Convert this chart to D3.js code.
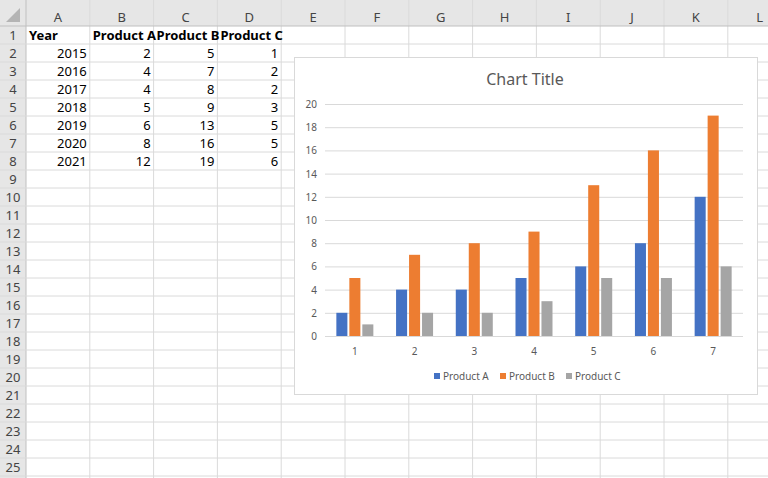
<!DOCTYPE html>
<html><head><meta charset="utf-8">
<script src="https://cdn.jsdelivr.net/npm/d3@7"></script>
<style>body{margin:0;background:#fff;}svg{display:block;font-family:"Noto Sans",sans-serif;}</style>
</head><body><svg id="c" width="768" height="478"></svg>
<script>
const years = [2015, 2016, 2017, 2018, 2019, 2020, 2021];
const categories = ["1", "2", "3", "4", "5", "6", "7"];
const series = ["Product A", "Product B", "Product C"];
const productA = [2, 4, 4, 5, 6, 8, 12];
const productB = [5, 7, 8, 9, 13, 16, 19];
const productC = [1, 2, 2, 3, 5, 5, 6];
const yTicks = [0, 2, 4, 6, 8, 10, 12, 14, 16, 18, 20];
const colLetters = ["A","B","C","D","E","F","G","H","I","J","K","L"];
const colours = ["#4472c4", "#ed7d31", "#a5a5a5"];
const values = [productA, productB, productC];

let svg = d3.select("#c");

// spreadsheet grid
const headW = 26, colW = 63.8, headH = 26, rowH = 18;
svg.append("rect").attr("width", 768).attr("height", headH).attr("fill", "#e6e6e6");
svg.append("rect").attr("width", headW).attr("height", 478).attr("fill", "#e6e6e6");
svg.append("path").attr("d", "M20,8L20,22L6,22Z").attr("fill", "#b4b4b4");
for (let i = 0; i < 13; i++) {
  let x = headW + i * colW;
  svg.append("line").attr("x1", x).attr("x2", x).attr("y1", 0).attr("y2", 478)
    .attr("stroke", i == 0 ? "#c0c0c0" : "#dadada");
  if (i < 12) svg.append("text").attr("x", x + colW / 2).attr("y", 22).attr("text-anchor", "middle")
    .attr("font-size", 13).attr("fill", "#444").text(colLetters[i]);
}
for (let r = 0; r < 26; r++) {
  let y = headH + r * rowH;
  svg.append("line").attr("x1", 0).attr("x2", 768).attr("y1", y).attr("y2", y)
    .attr("stroke", r == 0 ? "#c0c0c0" : "#dadada");
  if (r < 25) svg.append("text").attr("x", 13).attr("y", y + 14).attr("text-anchor", "middle")
    .attr("font-size", 13).attr("fill", "#444").text(r + 1);
}
// cells
const header = ["Year"].concat(series);
header.forEach((h, i) => svg.append("text").attr("x", headW + i * colW + 3).attr("y", headH + 14)
  .attr("font-size", 13).attr("font-weight", "bold").attr("fill", "#000").text(h));
years.forEach((yr, r) => {
  [yr, productA[r], productB[r], productC[r]].forEach((v, i) => {
    svg.append("text").attr("x", headW + (i + 1) * colW - 3).attr("y", headH + (r + 1) * rowH + 14)
      .attr("text-anchor", "end").attr("font-size", 13).attr("fill", "#000").text(v);
  });
});

// chart box
svg.append("rect").attr("x", 294.5).attr("y", 57.5).attr("width", 463).attr("height", 337)
  .attr("fill", "#fff").attr("stroke", "#d9d9d9");
svg.append("text").attr("x", 525).attr("y", 85).attr("text-anchor", "middle")
  .attr("font-size", 16).attr("fill", "#595959").text("Chart Title");

let x = d3.scaleBand().domain(categories).range([325, 743]);
let xs = d3.scaleBand().domain(series).range([0, 37]).paddingInner(0.15);
let y = d3.scaleLinear().domain([0, 20]).range([336, 104]);

svg.append("g").selectAll("line").data(yTicks).enter().append("line")
  .attr("x1", 325).attr("x2", 743).attr("y1", d => y(d) + 0.5).attr("y2", d => y(d) + 0.5)
  .attr("stroke", "#d9d9d9");
svg.append("g").selectAll("text").data(yTicks).enter().append("text")
  .attr("x", 317).attr("y", d => y(d) + 4).attr("text-anchor", "end")
  .attr("font-size", 10).attr("fill", "#595959").text(d => d);

series.forEach((s, si) => {
  svg.append("g").selectAll("rect").data(values[si]).enter().append("rect")
    .attr("x", (d, i) => x(categories[i]) + (x.bandwidth() - 37) / 2 + xs(s))
    .attr("width", xs.bandwidth())
    .attr("y", d => y(d)).attr("height", d => y(0) - y(d))
    .attr("fill", colours[si]);
});
svg.append("g").selectAll("text").data(categories).enter().append("text")
  .attr("x", d => x(d) + x.bandwidth() / 2).attr("y", 355).attr("text-anchor", "middle")
  .attr("font-size", 10).attr("fill", "#595959").text(d => d);

// legend
const legX = [434, 500, 566];
series.forEach((s, i) => {
  svg.append("rect").attr("x", legX[i]).attr("y", 373).attr("width", 6).attr("height", 6).attr("fill", colours[i]);
  svg.append("text").attr("x", legX[i] + 9).attr("y", 380).attr("font-size", 10)
    .attr("fill", "#595959").text(s);
});
</script></body></html>
